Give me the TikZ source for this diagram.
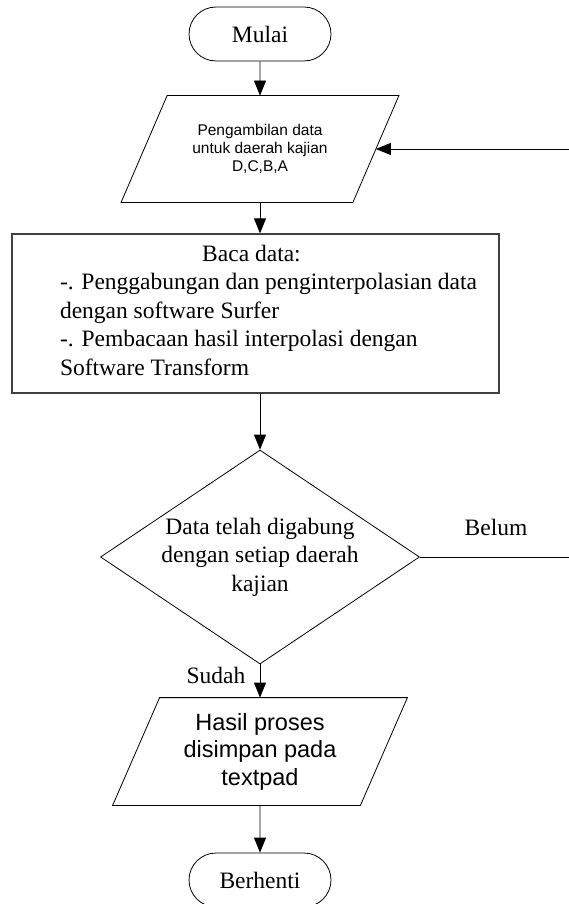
\documentclass[tikz,border=0pt]{standalone}
\usepackage{fontspec}
\setmainfont{Liberation Serif}
\newfontfamily\arialfont{Liberation Sans}
\usetikzlibrary{shapes.geometric,shapes.misc,arrows.meta}
\begin{document}
\begin{tikzpicture}[x=1pt,y=-1pt,line width=0.8pt,
  serif/.style={font=\fontsize{23.5pt}{28.5pt}\selectfont},
  flow/.style={-{Triangle[length=15pt,width=12pt]}},
  terminal/.style={draw,rounded rectangle,minimum width=142pt,minimum height=54pt,inner sep=0pt,serif},
  iobody/.style={inner sep=0pt,align=center},
  process/.style={draw=black!75,line width=1.3pt,minimum width=487pt,minimum height=159pt,inner sep=0pt,serif},
  decision/.style={draw,diamond,aspect=1.49,minimum width=319pt,minimum height=214pt,inner sep=0pt,align=center,serif},
  answer/.style={anchor=base,serif}]
\useasboundingbox (0,0) rectangle (568,904);

% start terminal
\node[terminal] (start) at (260,34) {Mulai};

% data input (parallelogram drawn around its text node)
\node[iobody,minimum width=231pt,minimum height=106pt,
      font=\arialfont\fontsize{15.5pt}{18pt}\selectfont] (p1) at (260,149)
  {Pengambilan data\\untuk daerah kajian\\D,C,B,A};
\draw ([xshift=23pt]p1.north west) -- ([xshift=23pt]p1.north east)
   -- ([xshift=-23pt]p1.south east) -- ([xshift=-23pt]p1.south west) -- cycle;

% processing box
\node[process] (b) at (255.5,313.5) {\hspace*{26pt}\parbox{417pt}{\raggedright
  \makebox[383pt]{Baca data:}\\
  -. Penggabungan dan penginterpolasian data\\
  dengan software Surfer\\
  -. Pembacaan hasil interpolasi dengan\\
  Software Transform\rule[-7pt]{0pt}{7pt}}};

% decision
\node[decision] (d) at (260,557) {Data telah digabung\\dengan setiap daerah\\kajian};

% output (parallelogram drawn around its text node)
\node[iobody,minimum width=247pt,minimum height=107pt,
      font=\arialfont\fontsize{23.5pt}{27.5pt}\selectfont] (p2) at (260,751.5)
  {Hasil proses\\disimpan pada\\textpad};
\draw ([xshift=23.5pt]p2.north west) -- ([xshift=23.5pt]p2.north east)
   -- ([xshift=-23.5pt]p2.south east) -- ([xshift=-23.5pt]p2.south west) -- cycle;

% end terminal
\node[terminal] (stop) at (260,880) {Berhenti};

% branch labels
\node[answer] (no) at (496,535) {Belum};
\node[answer] (yes) at (216,683) {Sudah};

% connectors
\coordinate (loop) at (569.5,557);
\draw[flow] (start) -- (p1);
\draw[flow] (p1.south) -- (p1.south |- b.north);
\draw[flow] (d.north |- b.south) -- (d.north);
\draw[flow] (d) -- (p2);
\draw[flow] (p2) -- (stop);
\draw[flow] (d.east) -- (loop) |- (p1.east);
\end{tikzpicture}
\end{document}
